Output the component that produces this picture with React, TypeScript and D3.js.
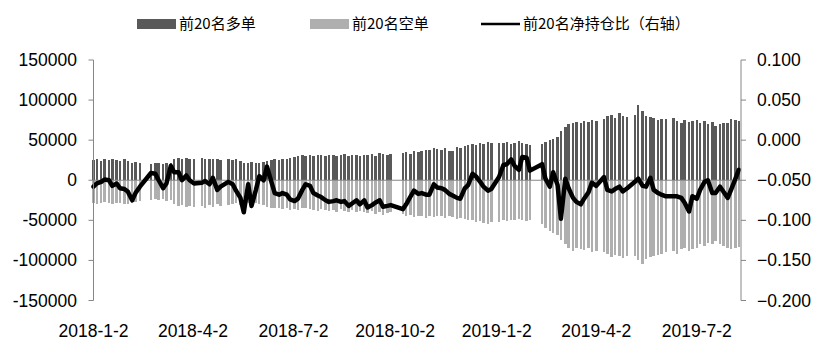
import React from "react";
import * as d3 from "d3";

// trading days shown: Tuesdays and Fridays, minus exchange holidays
const startDate = "2018-01-02";
const endDate = "2019-08-09";
const holidays = [
  "2018-02-16", "2018-02-20", "2018-04-06", "2018-05-01", "2018-10-02", "2018-10-05",
  "2019-01-01", "2019-02-05", "2019-02-08", "2019-04-05", "2019-05-03", "2019-06-07",
];

// 前20名多单 (thousand lots), one row per month
const longK = [
  25, 26, 24, 26, 25, 26, 25, 24, 26, // 2018-01
  24, 22, 23, 21, 20, 21, // 02
  21, 20, 21, 22, 26, 28, 27, 28, 27, // 03
  27, 28, 27, 26, 27, 26, 25, // 04
  26, 25, 26, 24, 22, 22, 23, 21, // 05
  22, 23, 24, 25, 26, 25, 26, 27, 28, // 06
  29, 30, 31, 30, 31, 30, 32, 31, 30, // 07
  31, 32, 30, 31, 33, 30, 31, 32, 30, // 08
  32, 31, 33, 30, 34, 33, 32, 33, // 09
  34, 35, 33, 36, 35, 36, 38, // 10
  38, 40, 39, 38, 40, 36, 37, 42, 40, // 11
  43, 44, 45, 44, 46, 45, 48, 46, // 12
  46, 47, 48, 45, 47, 49, 46, 45, // 2019-01
  44, 45, 48, 50, 52, 54, // 02
  62, 66, 70, 72, 73, 71, 74, 73, 75, // 03
  74, 76, 80, 82, 78, 84, 80, 79, // 04
  82, 94, 86, 80, 79, 78, 75, 76, // 05
  76, 78, 74, 72, 75, 73, 74, // 06
  75, 72, 74, 70, 73, 68, 70, 71, 72, // 07
  77, 75, 74, // 08
];

// 前20名空单 (thousand lots, drawn below zero)
const shortK = [
  28, 30, 29, 27, 29, 30, 28, 29, 30,
  30, 28, 27, 26, 25, 24,
  25, 24, 26, 25, 30, 32, 31, 33, 32,
  33, 32, 34, 31, 33, 30, 32,
  31, 30, 29, 31, 27, 28, 30, 29,
  30, 31, 33, 34, 35, 34, 36, 35, 37,
  36, 37, 35, 34, 36, 37, 38, 36, 37,
  38, 37, 39, 36, 38, 40, 37, 39, 38,
  39, 41, 38, 42, 40, 43, 41, 40,
  42, 44, 43, 46, 45, 44, 47,
  44, 46, 45, 44, 47, 45, 46, 48, 47,
  48, 50, 49, 52, 51, 53, 55, 52,
  52, 50, 51, 49, 50, 48, 50, 51,
  50, 54, 60, 63, 66, 68,
  75, 80, 85, 88, 84, 86, 87, 85, 89,
  88, 90, 92, 96, 93, 95, 97, 94,
  95, 100, 104, 98, 96, 94, 93, 92,
  90, 88, 92, 86, 85, 88, 86,
  84, 80, 82, 78, 80, 76, 79, 82, 85,
  86, 84, 83,
];

// 前20名净持仓比 (x1000, right axis)
const netRatio = [
  -58, -54, -52, -49, -50, -57, -54, -60, -61,
  -64, -75, -66, -58, -41, -42,
  -50, -60, -54, -32, -40, -40, -50, -44, -50,
  -54, -53, -51, -55, -47, -62, -58,
  -52, -55, -63, -72, -90, -55, -82, -62,
  -45, -50, -33, -52, -66, -68, -66, -68, -74,
  -76, -73, -62, -55, -57, -66, -69, -71, -75,
  -77, -76, -75, -77, -76, -82, -79, -75, -80,
  -75, -84, -81, -78, -75, -83, -82, -81,
  -86, -80, -70, -63, -67, -66, -68,
  -68, -55, -59, -60, -62, -67, -69, -72, -73,
  -60, -56, -42, -45, -52, -58, -63, -61,
  -46, -31, -30, -24, -32, -37, -21, -22,
  -38, -30, -48, -58, -40, -56,
  -98, -48, -60, -72, -77, -80, -73, -65, -53,
  -57, -46, -62, -64, -61, -58, -64, -60,
  -52, -48, -57, -58, -47, -62, -66, -68,
  -70, -70, -70, -72, -78, -89, -70,
  -73, -62, -52, -50, -66, -66, -58, -64, -72,
  -62, -48, -37,
];

const leftTicks = [150000, 100000, 50000, 0, -50000, -100000, -150000];
const rightTicks = [0.1, 0.05, 0, -0.05, -0.1, -0.15, -0.2];
const xTickLabels = ["2018-1-2", "2018-4-2", "2018-7-2", "2018-10-2", "2019-1-2", "2019-4-2", "2019-7-2"];

const W = 822, H = 353;
const plot = { left: 93.5, right: 741, top: 60, bottom: 300.5 };
const numFont = "'Liberation Sans', Arial, sans-serif";
const cjkFont = "'Noto Sans CJK SC', sans-serif";

const parse = (s: string) => {
  const [y, m, d] = s.split("-").map(Number);
  return new Date(Date.UTC(y, m - 1, d));
};

const dates: Date[] = d3.utcDay
  .range(parse(startDate), d3.utcDay.offset(parse(endDate), 1))
  .filter(d => (d.getUTCDay() === 2 || d.getUTCDay() === 5) && !holidays.includes(d3.utcFormat("%Y-%m-%d")(d)));

export default function App() {
  const x = d3.scaleUtc().domain([parse(startDate), parse("2019-08-11")]).range([plot.left, plot.right]);
  const yL = d3.scaleLinear().domain([-150000, 150000]).range([plot.bottom, plot.top]);
  const yR = d3.scaleLinear().domain([-0.2, 0.1]).range([plot.bottom, plot.top]);

  const n = Math.min(dates.length, longK.length, shortK.length, netRatio.length);
  const rows = d3.range(n).map(i => ({
    date: dates[i],
    long: longK[i] * 1000,
    short: -shortK[i] * 1000,
    ratio: netRatio[i] / 1000,
  }));

  const line = d3.line<any>().x(d => x(d.date)).y(d => yR(d.ratio));
  const barW = 2.5;
  const axisColor = "#868686";

  return (
    <svg width={W} height={H} style={{ display: "block", position: "absolute", left: 0, top: 0, background: "#fff" }}>
      {/* legend */}
      <g>
        <rect x={137} y={19} width={39} height={10} fill="#595959" />
        <text x={179} y={29} fontFamily={cjkFont} fontSize={15}>前20名多单</text>
        <rect x={310} y={19} width={39} height={10} fill="#afafaf" />
        <text x={352} y={29} fontFamily={cjkFont} fontSize={15}>前20名空单</text>
        <line x1={481} x2={520} y1={24} y2={24} stroke="#000" strokeWidth={2.5} />
        <text x={523} y={29} fontFamily={cjkFont} fontSize={15}>前20名净持仓比（右轴）</text>
      </g>

      {/* bars */}
      <g shapeRendering="crispEdges">
        {rows.map((d, i) => (
          <rect key={"l" + i} x={x(d.date) - barW / 2} y={yL(d.long)} width={barW} height={yL(0) - yL(d.long)} fill="#595959" />
        ))}
        {rows.map((d, i) => (
          <rect key={"s" + i} x={x(d.date) - barW / 2} y={yL(0)} width={barW} height={yL(d.short) - yL(0)} fill="#afafaf" />
        ))}
      </g>

      {/* zero line */}
      <line x1={plot.left} x2={plot.right} y1={yL(0)} y2={yL(0)} stroke={axisColor} strokeWidth={1} />

      {/* net ratio line */}
      <path d={line(rows) || ""} fill="none" stroke="#000" strokeWidth={4.5} strokeLinejoin="round" strokeLinecap="round" />

      {/* left axis */}
      <g>
        <line x1={plot.left} x2={plot.left} y1={plot.top} y2={plot.bottom} stroke={axisColor} />
        {leftTicks.map(t => (
          <g key={t}>
            <line x1={plot.left - 5} x2={plot.left} y1={yL(t)} y2={yL(t)} stroke={axisColor} />
            <text x={77} y={yL(t) + 6} textAnchor="end" fontFamily={numFont} fontSize={17.5}>{t}</text>
          </g>
        ))}
      </g>

      {/* right axis */}
      <g>
        <line x1={plot.right} x2={plot.right} y1={plot.top} y2={plot.bottom} stroke={axisColor} />
        {rightTicks.map(t => (
          <g key={t}>
            <line x1={plot.right} x2={plot.right + 5} y1={yR(t)} y2={yR(t)} stroke={axisColor} />
            <text x={757} y={yR(t) + 6} fontFamily={numFont} fontSize={17.5}>{d3.format(".3f")(t)}</text>
          </g>
        ))}
      </g>

      {/* x labels */}
      <g>
        {xTickLabels.map(s => (
          <text key={s} x={x(parse(s))} y={337} textAnchor="middle" fontFamily={numFont} fontSize={17.5}>{s}</text>
        ))}
      </g>
    </svg>
  );
}
